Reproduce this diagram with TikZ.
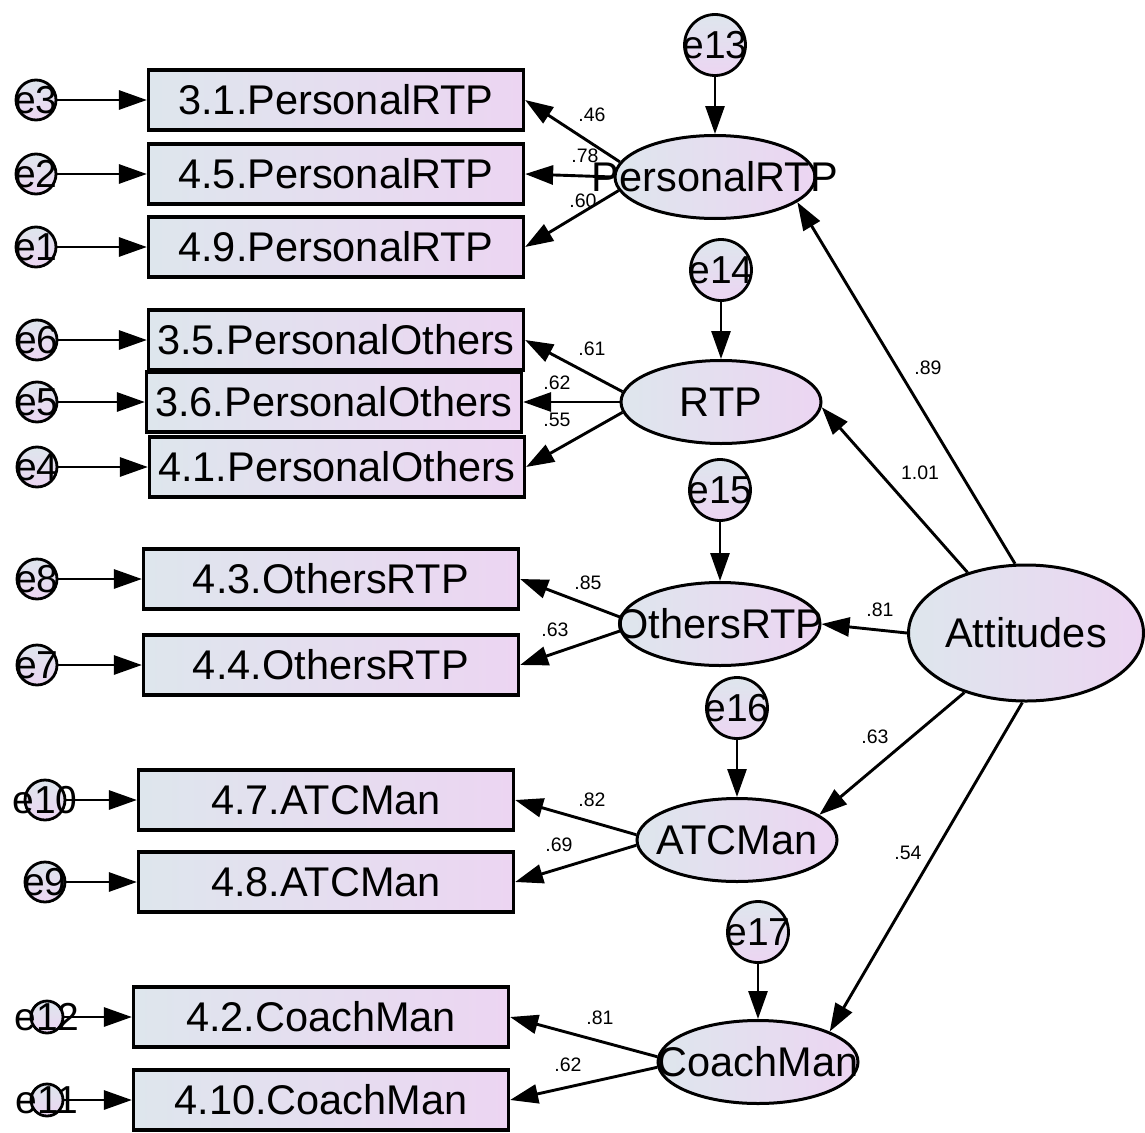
\documentclass[tikz,border=0pt]{standalone}
\usepackage{fontspec}
\setmainfont{Liberation Sans}
\usetikzlibrary{shapes.geometric,arrows.meta}
\definecolor{amosblue}{RGB}{222,230,237}
\definecolor{amoslilac}{RGB}{236,213,242}
\newcommand*{\BigFont}{\fontsize{41.5}{48}\selectfont}
\newcommand*{\ErrFont}{\fontsize{39}{45}\selectfont}
\newcommand*{\WtFont}{\fontsize{19.5}{22}\selectfont}
\tikzset{
  item/.style={rectangle, draw, line width=3.2pt, left color=amosblue, right color=amoslilac,
    minimum width=375pt, minimum height=60pt, inner sep=0pt, font=\BigFont},
  latent/.style={ellipse, draw, line width=3pt, left color=amosblue, right color=amoslilac,
    minimum width=200pt, minimum height=83pt, inner sep=0pt, font=\BigFont},
  err/.style={circle, draw, line width=2.8pt, top color=amosblue, bottom color=amoslilac,
    inner sep=0pt, font=\ErrFont},
  wt/.style={inner sep=0pt, font=\WtFont},
  regarrow/.style={line width=2.9pt, -{Triangle[length=28pt,width=19pt]}}
}
\newcommand*{\ItemBoxes}[1]{% #1 = list of name/x/y/error/ex/radius/text
  \foreach \nm/\x/\y/\err/\ex/\er/\txt in {#1} {
    \node [item] (\nm) at (\x,\y) {\txt};
    \node [err, minimum size=2*\er] (\err) at (\ex,\y) {\makebox[0pt]{\err}};
    \draw [regarrow] (\err) -- (\nm.west);
  }%
}
\newcommand*{\Latents}[1]{% #1 = list of name/x/y/text/error/ey
  \foreach \nm/\x/\y/\txt/\err/\ey in {#1} {
    \node [latent] (\nm) at (\x,\y) {\makebox[0pt]{\txt}};
    \node [err, minimum size=61pt] (\err) at (\x,\ey) {\makebox[0pt]{\err}};
    \draw [regarrow] (\err) -- (\nm.north);
  }%
}

\begin{document}
\begin{tikzpicture}[x=1pt,y=-1pt]
    \useasboundingbox (0,0) rectangle (1145,1132);

    % observed items with their errors
    \ItemBoxes{i31/336/100/e3/36/20/3.1.PersonalRTP,
      i45/336/174/e2/36/20/4.5.PersonalRTP,
      i49/336/247/e1/36/20/4.9.PersonalRTP,
      i35/336/340/e6/37/20/3.5.PersonalOthers,
      i36/334/402/e5/37/20/3.6.PersonalOthers,
      i41/337/467/e4/37/20/4.1.PersonalOthers,
      i43/331/579/e8/37/20/4.3.OthersRTP,
      i44/331/665/e7/37/20/4.4.OthersRTP,
      i47/326/800/e10/45/20/4.7.ATCMan,
      i48/326/882/e9/45/20/4.8.ATCMan,
      i42/321/1017/e12/47/16/4.2.CoachMan,
      i410/321/1100/e11/47/16/4.10.CoachMan}

    % first order factors
    \Latents{prtp/715/177/PersonalRTP/e13/45,
      rtp/721/402/RTP/e14/270,
      oth/720/624/OthersRTP/e15/490,
      atc/737/840/ATCMan/e16/708,
      coach/758/1062/CoachMan/e17/932}

    \node [latent, minimum width=235pt, minimum height=136pt] (att) at (1026,633) {Attitudes};

    % loadings
    \foreach \lat/\ang/\nm/\val/\lx/\ly in {prtp/171/i31/.46/592/115, prtp/180/i45/.78/585/156,
      prtp/188/i49/.60/583/201, rtp/174/i35/.61/592/349, rtp/180/i36/.62/557/383,
      rtp/186/i41/.55/557/420, oth/176/i43/.85/588/583, oth/184/i44/.63/555/630,
      atc/177/i47/.82/592/800, atc/183/i48/.69/559/845, coach/177/i42/.81/600/1018,
      coach/183/i410/.62/568/1065} {
        \draw [regarrow] (\lat.\ang) -- (\nm.east);
        \node [wt] (w-\nm) at (\lx,\ly) {\val};
    }

    % second order paths
    \foreach \ang/\nm/\tip/\val/\lx/\ly in {99/prtp/-17/.89/928/368, 134/rtp/-3/1.01/920/473,
      180/oth/0/.81/880/610, 224/atc/17/.63/875/737, 267/coach/23/.54/908/853} {
        \draw [regarrow] (att.\ang) -- (\nm.\tip);
        \node [wt] (w-\nm) at (\lx,\ly) {\val};
    }
\end{tikzpicture}
\end{document}
